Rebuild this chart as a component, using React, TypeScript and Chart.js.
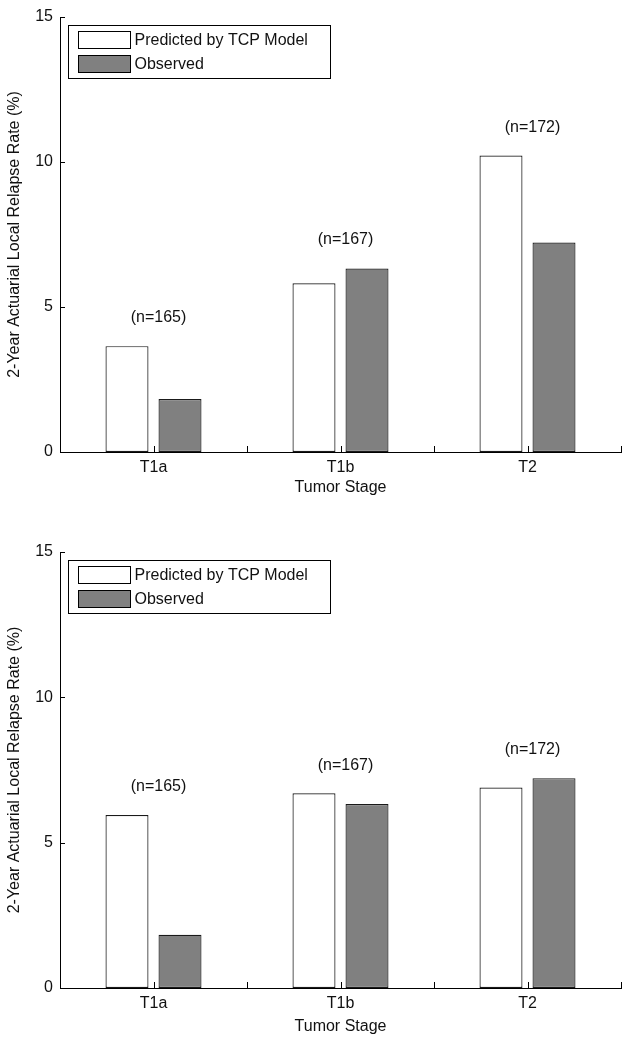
import React, { useEffect, useRef } from "react";
import { Chart, registerables } from "chart.js";

Chart.register(...registerables);

// ---- data ----
const categories = ["T1a", "T1b", "T2"];
const seriesNames = ["Predicted by TCP Model", "Observed"];
const predictedTop = [3.65, 5.82, 10.22];
const observedTop = [1.83, 6.33, 7.22];
const predictedBottom = [5.95, 6.7, 6.9];
const observedBottom = [1.83, 6.33, 7.22];
const sampleLabels = ["(n=165)", "(n=167)", "(n=172)"];
const sampleLabelYTop = [4.62, 7.31, 11.17];
const sampleLabelYBottom = [6.93, 7.66, 8.2];
const yTickValues = [0, 5, 10, 15];
const yTitle = "2-Year Actuarial Local Relapse Rate (%)";
const xTitle = "Tumor Stage";

const FONT = "'Liberation Sans', Arial, Helvetica, sans-serif";
const TEXT = "#111";

type PanelProps = {
  predicted: number[];
  observed: number[];
  labelY: number[];
  height: number;
  padTop: number;
  xAxisH: number;
  xTitlePadBottom: number;
};

const inwardTicks = {
  id: "inwardTicks",
  afterDraw(chart: any) {
    const { ctx, chartArea } = chart;
    const xs = chart.scales.x;
    const ys = chart.scales.y;
    ctx.save();
    ctx.strokeStyle = "#000";
    ctx.lineWidth = 1;
    ctx.beginPath();
    yTickValues.forEach((v) => {
      const y = Math.round(ys.getPixelForValue(v)) + 0.5;
      ctx.moveTo(chartArea.left, y);
      ctx.lineTo(chartArea.left + 5, y);
    });
    const n = categories.length;
    const half = (chartArea.right - chartArea.left) / n / 2;
    for (let i = 0; i < n; i++) {
      const c = xs.getPixelForValue(i);
      [c, c + half].forEach((px) => {
        const x = Math.round(px) + 0.5;
        ctx.moveTo(x, chartArea.bottom);
        ctx.lineTo(x, chartArea.bottom - 6);
      });
    }
    ctx.stroke();
    ctx.restore();
  },
};

const sampleText = {
  id: "sampleText",
  afterDatasetsDraw(chart: any, _args: any, opts: any) {
    const { ctx } = chart;
    const xs = chart.scales.x;
    const ys = chart.scales.y;
    ctx.save();
    ctx.font = `16px ${FONT}`;
    ctx.fillStyle = TEXT;
    ctx.textAlign = "center";
    ctx.textBaseline = "middle";
    sampleLabels.forEach((t, i) => {
      ctx.fillText(t, xs.getPixelForValue(i) + 5, ys.getPixelForValue(opts.ys[i]));
    });
    ctx.restore();
  },
};

const boxLegend = {
  id: "boxLegend",
  afterDraw(chart: any) {
    const { ctx, chartArea } = chart;
    const bx = chartArea.left + 8.5;
    const by = chartArea.top + 8.5;
    const bw = 262;
    const bh = 53;
    ctx.save();
    ctx.fillStyle = "#fff";
    ctx.fillRect(bx, by, bw, bh);
    ctx.strokeStyle = "#000";
    ctx.lineWidth = 1;
    ctx.strokeRect(bx, by, bw, bh);
    ctx.font = `16px ${FONT}`;
    ctx.textBaseline = "middle";
    ctx.textAlign = "left";
    chart.data.datasets.forEach((ds: any, i: number) => {
      const sy = by + 6 + i * 24;
      ctx.fillStyle = ds.backgroundColor;
      ctx.fillRect(bx + 10, sy, 52, 17);
      ctx.strokeStyle = "#000";
      ctx.strokeRect(bx + 10, sy, 52, 17);
      ctx.fillStyle = TEXT;
      ctx.fillText(ds.label, bx + 66, sy + 9);
    });
    ctx.restore();
  },
};

function Panel(props: PanelProps) {
  const ref = useRef<HTMLCanvasElement>(null);
  useEffect(() => {
    const canvas = ref.current!;
    const chart = new Chart(canvas, {
      type: "bar",
      data: {
        labels: categories,
        datasets: [
          {
            label: seriesNames[0],
            data: props.predicted,
            backgroundColor: "#ffffff",
            borderColor: "#1a1a1a",
            borderWidth: 1.2,
            borderSkipped: false,
            categoryPercentage: 0.567,
            barPercentage: 0.811,
          },
          {
            label: seriesNames[1],
            data: props.observed,
            backgroundColor: "#808080",
            borderColor: "#1a1a1a",
            borderWidth: 1.2,
            borderSkipped: false,
            categoryPercentage: 0.567,
            barPercentage: 0.811,
          },
        ],
      },
      options: {
        responsive: false,
        animation: false,
        devicePixelRatio: 1,
        layout: { padding: { left: 0, right: 3, top: props.padTop, bottom: 0 } },
        plugins: {
          legend: { display: false },
          tooltip: { enabled: false },
          sampleText: { ys: props.labelY },
        } as any,
        scales: {
          x: {
            type: "category",
            offset: true,
            grid: { display: false, drawTicks: false },
            border: { display: true, color: "#000", width: 1 },
            ticks: { color: TEXT, font: { family: FONT, size: 16 }, padding: 6, maxRotation: 0 },
            title: {
              display: true,
              text: xTitle,
              color: TEXT,
              font: { family: FONT, size: 16 },
              padding: { top: 0, bottom: props.xTitlePadBottom - 1.5 },
            },
            afterFit(scale: any) {
              scale.height = props.xAxisH;
            },
          },
          y: {
            min: 0,
            max: 15,
            grid: { display: false, drawTicks: false },
            border: { display: true, color: "#000", width: 1 },
            ticks: {
              stepSize: 5,
              color: TEXT,
              font: { family: FONT, size: 16 },
              padding: 7,
            },
            afterBuildTicks(scale: any) {
              scale.ticks = yTickValues.map((v) => ({ value: v }));
            },
            title: {
              display: true,
              text: yTitle,
              color: TEXT,
              font: { family: FONT, size: 16 },
              padding: { top: 5.4, bottom: 0 },
            },
            afterFit(scale: any) {
              scale.width = 60;
            },
          },
        },
      },
      plugins: [inwardTicks, sampleText, boxLegend],
    } as any);
    return () => chart.destroy();
  }, []);
  return (
    <canvas
      ref={ref}
      width={624}
      height={props.height}
      style={{ display: "block", width: 624, height: props.height }}
    />
  );
}

export default function App() {
  return (
    <div style={{ position: "absolute", left: 0, top: 0, width: 624, height: 1043, background: "#fff" }}>
      <Panel
        predicted={predictedTop}
        observed={observedTop}
        labelY={sampleLabelYTop}
        height={521}
        padTop={17}
        xAxisH={69}
        xTitlePadBottom={25.4}
      />
      <Panel
        predicted={predictedBottom}
        observed={observedBottom}
        labelY={sampleLabelYBottom}
        height={522}
        padTop={31}
        xAxisH={55}
        xTitlePadBottom={8.4}
      />
    </div>
  );
}
